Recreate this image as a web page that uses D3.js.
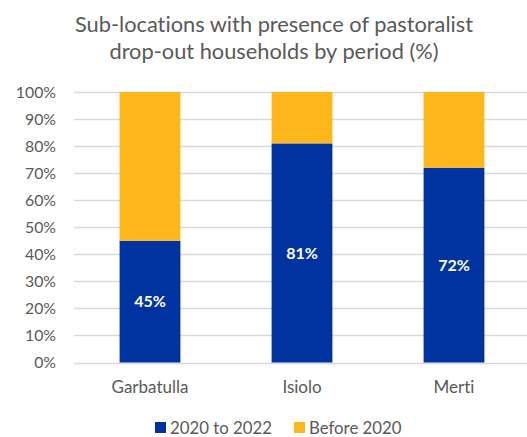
<!DOCTYPE html>
<html>
<head>
<meta charset="utf-8">
<script src="https://cdn.jsdelivr.net/npm/d3@7"></script>
<style>
  html, body { margin: 0; padding: 0; background: #fff; }
  svg { display: block; }
  text { font-family: Lato, "Open Sans", sans-serif; font-variant-ligatures: none; }
</style>
</head>
<body>
<svg id="chart" width="527" height="437"></svg>
<script>
// Share of sub-locations by period when pastoralist drop-out households appeared
const categories = ["Garbatulla", "Isiolo", "Merti"];
const recent = [45, 81, 72];        // 2020 to 2022
const earlier = [55, 19, 28];       // Before 2020
const seriesNames = ["2020 to 2022", "Before 2020"];
const seriesColors = ["#0033a0", "#fdb71a"];
const yTicks = [0, 10, 20, 30, 40, 50, 60, 70, 80, 90, 100];
const titleLines = ["Sub-locations with presence of pastoralist", "drop-out households by period (%)"];

const svg = d3.select("#chart");
const textColor = "#595959";

const rows = categories.map((c, i) => ({ cat: c, recent: recent[i], earlier: earlier[i] }));
const stacked = d3.stack().keys(["recent", "earlier"])(rows);

const x = d3.scaleBand().domain(categories).range([74, 530]).paddingInner(0.6).paddingOuter(0.3);
const y = d3.scaleLinear().domain([0, 100]).range([362.5, 92]);

// title
svg.append("g").selectAll("text").data(titleLines).join("text")
  .attr("x", 274).attr("y", (d, i) => 32 + i * 27)
  .attr("text-anchor", "middle")
  .attr("font-size", 21.8)
  .attr("fill", textColor)
  .text(d => d);

// gridlines
svg.append("g").selectAll("line").data(yTicks).join("line")
  .attr("x1", 74).attr("x2", 527)
  .attr("y1", d => Math.round(y(d)) + 0.5).attr("y2", d => Math.round(y(d)) + 0.5)
  .attr("stroke", "#d9d9d9").attr("stroke-width", 1.3);

// y axis labels
const yAxis = d3.axisLeft(y).tickValues(yTicks).tickFormat(d => d + "%").tickSize(0).tickPadding(0);
const yg = svg.append("g").attr("transform", "translate(56,0)").call(yAxis);
yg.select(".domain").remove();
yg.selectAll("text").attr("font-size", 15.8).attr("fill", textColor).attr("font-family", "Lato, sans-serif");

// stacked bars
svg.append("g").selectAll("g").data(stacked).join("g")
  .attr("fill", (d, i) => seriesColors[i])
  .selectAll("rect").data(d => d).join("rect")
  .attr("x", d => x(d.data.cat))
  .attr("width", x.bandwidth())
  .attr("y", d => y(d[1]))
  .attr("height", d => y(d[0]) - y(d[1]));

// value labels inside the lower segment
svg.append("g").selectAll("text").data(rows).join("text")
  .attr("x", d => x(d.cat) + x.bandwidth() / 2)
  .attr("y", d => (y(0) + y(d.recent)) / 2)
  .attr("dy", "0.35em")
  .attr("text-anchor", "middle")
  .attr("font-size", 16)
  .attr("font-weight", "bold")
  .attr("fill", "#ffffff")
  .text(d => d.recent + "%");

// category axis
const xAxis = d3.axisBottom(x).tickSize(0).tickPadding(0);
const xg = svg.append("g").attr("transform", "translate(0,393)").call(xAxis);
xg.select(".domain").remove();
xg.selectAll("text").attr("font-size", 17).attr("fill", textColor).attr("dy", 0).attr("font-family", "Lato, sans-serif");

// legend
const legendX = [155, 294];
const lg = svg.append("g").selectAll("g").data(seriesNames).join("g")
  .attr("transform", (d, i) => `translate(${legendX[i]},0)`);
lg.append("rect").attr("x", 0).attr("y", 422).attr("width", 11).attr("height", 11)
  .attr("fill", (d, i) => seriesColors[i]);
lg.append("text").attr("x", 15).attr("y", 434)
  .attr("font-size", 16.8).attr("fill", textColor).text(d => d);
</script>
</body>
</html>
